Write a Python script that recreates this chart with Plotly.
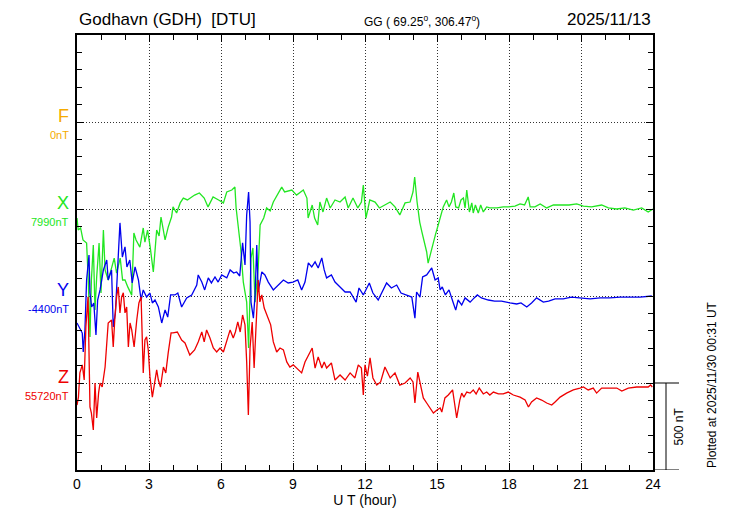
import plotly.graph_objects as go

# ---------------- data (nT) ----------------
x_t = [0.0,0.05,0.15,0.25,0.4,0.47,0.54,0.6,0.68,0.75,0.82,0.92,1.0,1.1,1.17,1.3,1.45,1.55,1.65,1.8,1.9,2.0,2.12,2.28,2.37,2.46,2.62,2.76,2.83,2.94,3.05,3.18,3.32,3.42,3.5,3.6,3.67,3.8,3.94,4.0,4.15,4.3,4.43,4.6,4.9,5.1,5.3,5.46,5.67,5.9,6.1,6.24,6.45,6.58,6.63,6.82,6.93,7.07,7.15,7.25,7.33,7.42,7.55,7.63,7.78,7.9,8.05,8.18,8.4,8.53,8.65,8.95,9.15,9.43,9.58,9.63,9.8,9.9,10.03,10.12,10.25,10.4,10.55,10.75,10.96,11.17,11.3,11.5,11.7,11.85,11.93,12.04,12.2,12.42,12.6,12.83,13.05,13.25,13.45,13.67,13.88,14.0,14.07,14.17,14.28,14.37,14.57,14.63,14.78,14.93,15.05,
       15.13,15.26,15.4,15.5,15.6,15.7,15.78,15.9,16.0,16.1,16.17,16.24,16.35,16.45,16.51,16.6,16.72,16.82,16.93,17.07,17.2,17.5,17.76,17.97,18.25,18.46,18.65,18.8,18.88,19.08,19.3,19.57,19.85,20.2,20.5,20.82,21.1,21.44,21.86,22.14,22.49,22.83,23.18,23.53,23.8,24.0]
x_val = [7938,7869,7881,7812,7794,7582,7254,7582,7783,7409,7599,7794,7507,7869,7639,7582,7656,7708,7622,7708,7582,7582,7541,7495,7852,7812,7771,7881,7800,7869,7771,7628,7869,7835,7944,7869,7812,7886,7944,8002,7967,8025,8053,8042,8070,8082,8053,8002,8059,8042,8025,8088,8099,8116,7996,7766,7570,7455,7191,7708,7766,7455,7651,7898,7938,7996,7979,8030,8088,8116,8088,8099,8070,8099,8053,7938,8013,7938,7898,8030,7973,8053,7996,8042,8030,8059,7996,8053,7996,8030,8128,7938,8042,8030,7996,8013,8030,8002,7956,8025,8030,8088,8174,8030,7915,7858,7743,7679,7766,7840,7898,
         7944,8002,8042,8002,8030,8082,8002,7996,8042,8053,7996,8099,7973,8025,7967,8013,7967,8013,7973,8002,7996,7996,8002,8002,8007,8019,8013,8059,8002,8002,8019,7996,8013,8013,8013,8019,8007,8002,8013,7996,7990,7996,7984,7996,7973,7990]

y_t = [0.0,0.1,0.22,0.26,0.33,0.4,0.5,0.54,0.61,0.7,0.79,0.86,0.96,1.1,1.24,1.3,1.44,1.51,1.6,1.69,1.79,1.89,2.0,2.08,2.2,2.3,2.42,2.56,2.67,2.76,2.9,3.04,3.14,3.25,3.39,3.53,3.67,3.78,3.9,4.08,4.2,4.36,4.57,4.78,4.99,5.05,5.2,5.32,5.47,5.6,5.75,5.88,6.03,6.24,6.38,6.53,6.65,6.78,6.9,7.0,7.07,7.15,7.21,7.25,7.35,7.42,7.49,7.55,7.7,7.83,7.97,8.18,8.39,8.6,8.8,9.0,9.2,9.36,9.5,9.64,9.78,9.92,10.05,10.2,10.3,10.4,10.6,10.75,10.96,11.17,11.38,11.63,11.75,11.93,12.18,12.33,12.55,12.7,12.9,13.1,13.32,13.5,13.74,13.95,14.08,14.15,14.29,14.4,14.57,14.78,14.92,15.05,
       15.13,15.22,15.35,15.5,15.68,15.78,15.88,16.03,16.17,16.38,16.55,16.68,16.85,17.14,17.4,17.69,18.04,18.32,18.5,18.74,18.94,19.15,19.43,19.65,19.92,20.26,20.6,20.96,21.38,21.8,22.2,22.63,23.04,23.46,23.95]
y_val = [-4555,-4578,-4613,-4722,-4596,-4308,-4164,-4383,-4463,-4440,-4624,-4423,-4365,-4250,-4193,-4308,-4250,-4578,-4498,-4250,-3980,-4176,-4118,-4233,-4193,-4325,-4233,-4308,-4423,-4365,-4406,-4383,-4440,-4423,-4463,-4555,-4480,-4521,-4394,-4394,-4383,-4463,-4411,-4394,-4337,-4279,-4320,-4365,-4296,-4325,-4291,-4320,-4279,-4296,-4250,-4268,-4262,-4285,-4095,-4222,-3934,-3802,-3975,-4435,-4527,-4394,-4107,-4377,-4262,-4279,-4320,-4365,-4337,-4308,-4325,-4320,-4308,-4365,-4320,-4210,-4233,-4204,-4239,-4181,-4250,-4296,-4279,-4320,-4348,-4377,-4377,-4435,-4354,-4394,-4325,-4383,-4423,-4377,-4325,-4354,-4337,-4383,-4394,-4406,-4527,-4377,-4406,-4291,-4279,-4239,-4308,-4296,
         -4365,-4348,-4394,-4365,-4440,-4481,-4423,-4452,-4411,-4435,-4411,-4394,-4411,-4423,-4429,-4429,-4440,-4446,-4440,-4463,-4440,-4411,-4435,-4429,-4417,-4417,-4406,-4411,-4417,-4411,-4411,-4406,-4406,-4406,-4400]

z_t = [0.0,0.06,0.12,0.22,0.3,0.37,0.46,0.5,0.54,0.6,0.68,0.75,0.82,0.9,0.96,1.05,1.17,1.25,1.3,1.44,1.51,1.58,1.65,1.72,1.79,1.86,1.93,2.0,2.07,2.14,2.21,2.28,2.38,2.49,2.58,2.67,2.76,2.83,2.9,2.97,3.04,3.14,3.25,3.32,3.39,3.48,3.6,3.7,3.8,3.92,4.0,4.18,4.36,4.5,4.7,4.9,5.05,5.2,5.3,5.4,5.54,5.68,5.82,5.96,6.1,6.24,6.38,6.51,6.6,6.7,6.8,6.9,7.0,7.07,7.14,7.21,7.3,7.38,7.49,7.55,7.62,7.7,7.8,7.9,8.07,8.18,8.32,8.46,8.6,8.74,8.87,9.01,9.15,9.36,9.5,9.64,9.8,9.92,10.05,10.2,10.3,10.4,10.6,10.75,10.96,11.17,11.38,11.58,11.72,11.85,11.93,12.0,12.1,12.21,12.33,12.49,12.65,12.83,13.05,13.25,13.45,13.67,13.88,14.0,14.08,14.2,14.29,14.43,14.57,14.72,14.85,15.0,
       15.13,15.2,15.33,15.47,15.65,15.73,15.82,15.95,16.03,16.12,16.24,16.38,16.51,16.63,16.76,16.93,17.07,17.2,17.35,17.56,17.76,17.97,18.18,18.46,18.67,18.81,18.94,19.15,19.36,19.57,19.78,19.92,20.13,20.4,20.68,20.96,21.1,21.3,21.51,21.65,21.86,22.2,22.49,22.7,22.97,23.32,23.6,23.8,23.9,23.97]
z_val = [55593,55639,55778,55824,55737,56042,56215,55835,55582,55547,55450,55720,55519,55663,55720,55697,55812,55967,56065,56082,55927,56100,56215,56272,56123,56215,56238,56123,56157,55927,56065,56025,55927,56082,56180,56215,55778,55967,55985,55910,55755,55639,55737,55795,55737,55697,55812,55778,55893,56008,56008,56013,55967,55950,55881,55910,55956,56013,55956,56025,55979,55921,55898,55921,55898,55956,56025,55979,56013,56071,56013,56111,56054,55841,55536,55921,56071,55806,56094,56312,56186,56226,56151,56111,56054,55956,55898,55921,55910,55841,55812,55824,55806,55778,55841,55881,55921,55806,55870,55806,55841,55806,55835,55737,55766,55737,55778,55749,55824,55806,55651,55824,55760,55864,55749,55708,55726,55812,55749,55778,55708,55720,55749,55726,55605,55783,55726,55634,55605,55576,55547,55565,
         55576,55553,55634,55651,55680,55605,55519,55622,55662,55639,55668,55662,55680,55657,55691,55657,55668,55651,55668,55657,55657,55668,55651,55639,55622,55582,55611,55634,55622,55605,55593,55611,55639,55662,55680,55691,55697,55680,55691,55662,55691,55691,55691,55674,55691,55697,55697,55697,55709,55697]

assert len(x_t) == len(x_val) and len(y_t) == len(y_val) and len(z_t) == len(z_val)

components = ["F", "X", "Y", "Z"]
baselines = [0, 7990, -4400, 55720]
baseline_labels = ["0nT", "7990nT", "-4400nT", "55720nT"]
colors = ["#f5aa00", "#22e622", "#0000ee", "#ee0000"]
x_ticks = [0, 3, 6, 9, 12, 15, 18, 21, 24]

# ---------------- figure ----------------
SLOT = [2000, 1500, 1000, 500]   # vertical slot of each component (nT, 500 nT spacing)
L, R, T, B = 77, 653, 35, 470
W, H = 730, 520
def px(x):
    return (x - L) / (R - L)
def py(y):
    return (B - y) / (B - T)

fig = go.Figure()
series = [(x_t, x_val, 1), (y_t, y_val, 2), (z_t, z_val, 3)]
for t, v, i in series:
    fig.add_trace(go.Scatter(x=t, y=[val - baselines[i] + SLOT[i] for val in v],
                             mode="lines", line=dict(color=colors[i], width=1.3),
                             showlegend=False, hoverinfo="skip"))

FONT = "Liberation Sans, Arial, sans-serif"
ann = []
for i, c in enumerate(components):
    ann.append(dict(x=px(63), y=SLOT[i] + 35, xref="paper", yref="y", text=c,
                    showarrow=False, font=dict(family=FONT, size=18, color=colors[i]),
                    xanchor="center", yanchor="middle"))
    ann.append(dict(x=px(71), y=SLOT[i] - 75, xref="paper", yref="y", text=baseline_labels[i],
                    showarrow=False, font=dict(family=FONT, size=11, color=colors[i]),
                    xanchor="right", yanchor="middle"))

ann += [
    dict(x=0, y=py(20), xref="paper", yref="paper", text="Godhavn (GDH)  [DTU]", showarrow=False,
         font=dict(family=FONT, size=17, color="black"), xanchor="left", yanchor="middle"),
    dict(x=px(422), y=py(21), xref="paper", yref="paper",
         text="GG ( 69.25<sup>o</sup>, 306.47<sup>o</sup>)", showarrow=False,
         font=dict(family=FONT, size=12, color="black"), xanchor="center", yanchor="middle"),
    dict(x=1, y=py(20), xref="paper", yref="paper", text="2025/11/13", showarrow=False,
         font=dict(family=FONT, size=17, color="black"), xanchor="right", yanchor="middle"),
    dict(x=px(678), y=250, xref="paper", yref="y", text="500 nT", showarrow=False, textangle=-90,
         font=dict(family=FONT, size=12, color="black"), xanchor="center", yanchor="middle"),
    dict(x=px(712), y=py(385), xref="paper", yref="paper", text="Plotted at 2025/11/30 00:31 UT",
         showarrow=False, textangle=-90,
         font=dict(family=FONT, size=12, color="black"), xanchor="center", yanchor="middle"),
]

shapes = [
    dict(type="line", xref="paper", yref="y", x0=1, x1=px(679), y0=500, y1=500, line=dict(color="black", width=1)),
    dict(type="line", xref="paper", yref="y", x0=1, x1=px(679), y0=0, y1=0, line=dict(color="black", width=1)),
    dict(type="line", xref="paper", yref="y", x0=px(666), x1=px(666), y0=0, y1=500, line=dict(color="black", width=1)),
]

fig.update_layout(
    width=W, height=H,
    margin=dict(l=L, r=W - R, t=T, b=H - B),
    paper_bgcolor="white", plot_bgcolor="white",
    annotations=ann, shapes=shapes,
    font=dict(family=FONT, color="black"),
)
GRID = dict(showgrid=True, gridcolor="#333", griddash="1px,2px", gridwidth=1)
fig.update_xaxes(range=[0, 24], tickvals=x_ticks, ticktext=[str(v) for v in x_ticks],
                 ticks="inside", ticklen=7, tickcolor="black", mirror="ticks",
                 showline=True, linecolor="black", linewidth=1.5,
                 minor=dict(dtick=1, ticks="inside", ticklen=5, tickcolor="black", showgrid=False),
                 tickfont=dict(size=14, family=FONT), zeroline=False,
                 title=dict(text="U T (hour)", font=dict(size=14, family=FONT), standoff=2), **GRID)
fig.update_yaxes(range=[0, 2500], tickvals=[500, 1000, 1500, 2000], showticklabels=False,
                 ticks="inside", ticklen=7, tickcolor="black", mirror="ticks",
                 showline=True, linecolor="black", linewidth=1.5,
                 minor=dict(dtick=100, ticks="inside", ticklen=5, tickcolor="black", showgrid=False),
                 zeroline=False, **GRID)

fig.write_html("out.html", config={"displayModeBar": False},
               post_script="document.body.style.margin='0px';document.body.style.overflow='hidden';")
